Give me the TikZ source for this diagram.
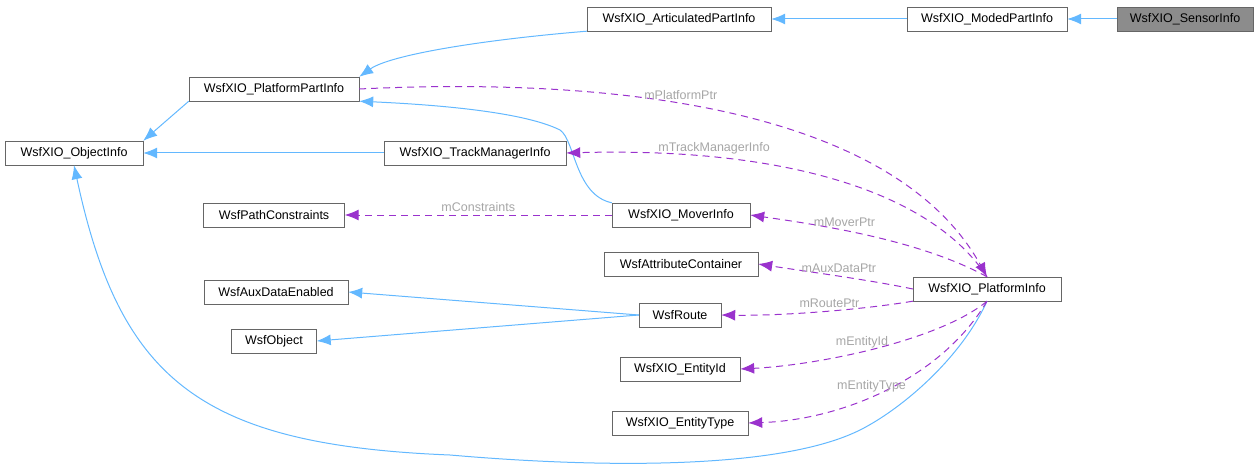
\documentclass[tikz,border=0pt]{standalone}
\usepackage{fontspec}
\setmainfont{Liberation Sans}
\usetikzlibrary{positioning,calc,arrows.meta}
\definecolor{inhblue}{HTML}{63B8FF}
\definecolor{usepurple}{HTML}{9A32CD}
\begin{document}
\begin{tikzpicture}[x=1pt,y=-1pt,
        cls/.style={draw=black!60, fill=white, minimum height=24pt, inner sep=0pt, font=\fontsize{12.5}{14}\selectfont},
        inh/.style={-{Latex[length=14pt,width=11pt]}, inhblue, line width=1pt},
        use/.style={-{Latex[length=14pt,width=11pt]}, usepurple, dashed, dash pattern=on 7pt off 5pt, line width=1pt},
        lbl/.style={gray!70, font=\fontsize{12.5}{14}\selectfont}]
        \useasboundingbox (0,0) rectangle (1260,473);
        \node[cls, minimum width=136pt, fill=black!45] (sensor) at (1185,19) {WsfXIO\_SensorInfo};
        \node[cls, minimum width=160pt] (moded) at (987,19) {WsfXIO\_ModedPartInfo};
        \node[cls, minimum width=184pt] (artic) at (679,19) {WsfXIO\_ArticulatedPartInfo};
        \node[cls, minimum width=170pt] (ppart) at (274,89) {WsfXIO\_PlatformPartInfo};
        \node[cls, minimum width=138pt] (object) at (74,153) {WsfXIO\_ObjectInfo};
        \node[cls, minimum width=182pt] (trackmgr) at (475,153) {WsfXIO\_TrackManagerInfo};
        \node[cls, minimum width=141pt] (pathc) at (274,215) {WsfPathConstraints};
        \node[cls, minimum width=138pt] (mover) at (681,215) {WsfXIO\_MoverInfo};
        \node[cls, minimum width=154pt] (attrc) at (681,264) {WsfAttributeContainer};
        \node[cls, minimum width=144pt] (auxdata) at (276,292) {WsfAuxDataEnabled};
        \node[cls, minimum width=148pt] (platform) at (987,289) {WsfXIO\_PlatformInfo};
        \node[cls, minimum width=82pt] (route) at (680,315) {WsfRoute};
        \node[cls, minimum width=85pt] (wsfobj) at (274,341) {WsfObject};
        \node[cls, minimum width=120pt] (entid) at (680,369) {WsfXIO\_EntityId};
        \node[cls, minimum width=136pt] (enttype) at (680,423) {WsfXIO\_EntityType};
        % inheritance
        \draw[inh] (sensor) -- (moded);
        \draw[inh] (moded) -- (artic);
        \draw[inh] (artic.south west) .. controls (480,40) and (390,55) .. (ppart.north east);
        \draw[inh] (ppart.south west) -- (object.north east);
        \draw[inh] (trackmgr) -- (object);
        \draw[inh] (mover.north west) .. controls (575,195) and (575,140) .. (560,130)
          .. controls (520,110) and (420,104) .. (ppart.south east);
        \draw[inh] (route.west) -- (auxdata.east);
        \draw[inh] (route.west) -- (wsfobj.east);
        \draw[inh] (platform.south) .. controls (960,360) and (900,410) .. (860,430)
          .. controls (780,470) and (600,468) .. (450,455)
          .. controls (200,445) and (120,380) .. (object.south);
        % members
        \draw[use] (ppart.east) .. controls (650,75) and (900,120) .. (platform.north)
          node[lbl, pos=0.4, above] {mPlatformPtr};
        \draw[use] (platform.north) .. controls (930,190) and (780,147) .. (trackmgr.east)
          node[lbl, pos=0.75, above] {mTrackManagerInfo};
        \draw[use] (mover.west) -- (pathc.east) node[lbl, midway, above] {mConstraints};
        \draw[use] (platform.north) .. controls (920,240) and (820,225) .. (mover.east)
          node[lbl, pos=0.6, above] {mMoverPtr};
        \draw[use] (platform.west) .. controls (870,280) and (810,272) .. (attrc.east)
          node[lbl, pos=0.5, above] {mAuxDataPtr};
        \draw[use] (platform.south west) .. controls (860,310) and (780,316) .. (route.east)
          node[lbl, pos=0.45, above] {mRoutePtr};
        \draw[use] (platform.south) .. controls (940,340) and (820,365) .. (entid.east)
          node[lbl, pos=0.55, above] {mEntityId};
        \draw[use] (platform.south) .. controls (940,380) and (840,420) .. (enttype.east)
          node[lbl, pos=0.55, above] {mEntityType};
      \end{tikzpicture}
\end{document}
